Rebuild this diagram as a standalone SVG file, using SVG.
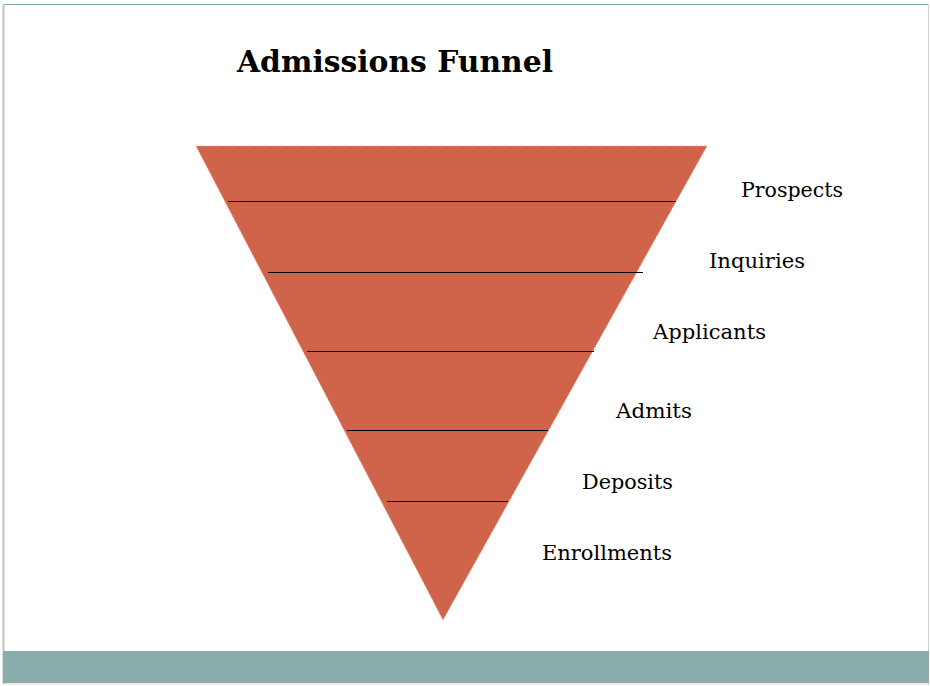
<svg xmlns="http://www.w3.org/2000/svg" width="930" height="686" viewBox="0 0 930 686">
  <style>
    .label { font-family: "DejaVu Serif", Georgia, serif; font-size: 21px; fill: #000; }
    .title { font-family: "DejaVu Serif", Georgia, serif; font-size: 29px; font-weight: bold; fill: #000; }
    .divider { stroke: #000; stroke-width: 1; }
  </style>
  <rect x="0" y="0" width="930" height="686" fill="#fff"/>
  <!-- slide frame -->
  <line x1="3" y1="4.5" x2="928" y2="4.5" stroke="#7fa3a3" stroke-width="1"/>
  <line x1="3.5" y1="4" x2="3.5" y2="684" stroke="#bfc5c5" stroke-width="2"/>
  <line x1="928.5" y1="4" x2="928.5" y2="684" stroke="#d0d4d4" stroke-width="1"/>
  <rect x="3" y="651" width="926" height="32" fill="#8aacab"/>
  <line x1="3" y1="684" x2="929" y2="684" stroke="#d6d9d9" stroke-width="1"/>

  <text class="title" x="237" y="72" textLength="316" lengthAdjust="spacingAndGlyphs">Admissions Funnel</text>

  <!-- funnel body -->
  <g id="funnel">
    <polygon points="196,146 707,146 443,620" fill="#d0644a" stroke="#e9a08c" stroke-width="1" stroke-dasharray="2,2"/>
  </g>

  <g id="dividers">
    <line class="divider" x1="228" y1="201.5" x2="676" y2="201.5"/>
    <line class="divider" x1="268" y1="272.5" x2="643" y2="272.5"/>
    <line class="divider" x1="307" y1="351.5" x2="594" y2="351.5"/>
    <line class="divider" x1="347" y1="430.5" x2="548" y2="430.5"/>
    <line class="divider" x1="387" y1="501.5" x2="508" y2="501.5"/>
  </g>

  <g id="stage-prospects"><text class="label" x="741" y="197" textLength="102" lengthAdjust="spacingAndGlyphs">Prospects</text></g>
  <g id="stage-inquiries"><text class="label" x="709" y="268" textLength="96" lengthAdjust="spacingAndGlyphs">Inquiries</text></g>
  <g id="stage-applicants"><text class="label" x="653" y="339" textLength="113" lengthAdjust="spacingAndGlyphs">Applicants</text></g>
  <g id="stage-admits"><text class="label" x="616" y="418" textLength="76" lengthAdjust="spacingAndGlyphs">Admits</text></g>
  <g id="stage-deposits"><text class="label" x="582" y="489" textLength="91" lengthAdjust="spacingAndGlyphs">Deposits</text></g>
  <g id="stage-enrollments"><text class="label" x="542" y="560" textLength="130" lengthAdjust="spacingAndGlyphs">Enrollments</text></g>
</svg>
